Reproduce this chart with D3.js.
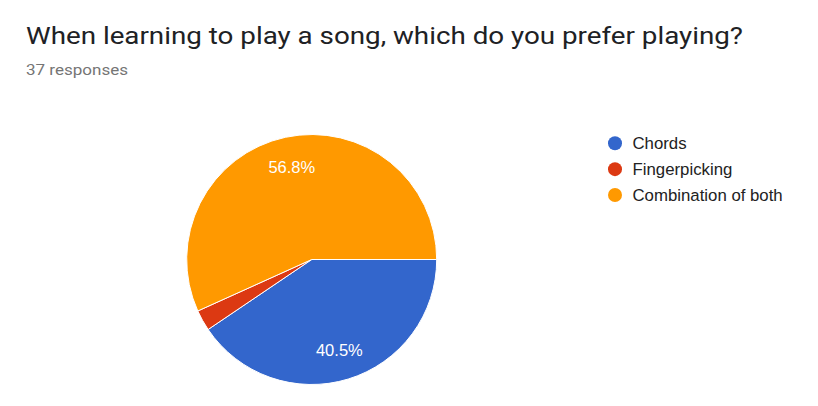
<!DOCTYPE html>
<html>
<head>
<meta charset="utf-8">
<script src="https://cdn.jsdelivr.net/npm/d3@7"></script>
<style>
  html, body { margin: 0; padding: 0; background: #ffffff; }
  svg { display: block; }
</style>
</head>
<body>
<svg id="chart" width="818" height="406"></svg>
<script>
const categories = ["Chords", "Fingerpicking", "Combination of both"];
const counts = [15, 1, 21];
const percentLabels = ["40.5%", "2.7%", "56.8%"];
const colors = ["#3366cc", "#dc3912", "#ff9900"];
const titleText = "When learning to play a song, which do you prefer playing?";
const subtitleText = "37 responses";

const svg = d3.select("#chart");

svg.append("text")
  .attr("x", 26).attr("y", 44)
  .attr("font-family", "Roboto, sans-serif")
  .attr("font-size", 23.5)
  .attr("fill", "#202124")
  .attr("textLength", 717)
  .attr("lengthAdjust", "spacingAndGlyphs")
  .text(titleText);

svg.append("text")
  .attr("x", 26).attr("y", 75)
  .attr("font-family", "Roboto, sans-serif")
  .attr("font-size", 15)
  .attr("fill", "#757575")
  .attr("textLength", 102)
  .attr("lengthAdjust", "spacingAndGlyphs")
  .text(subtitleText);

const cx = 311.7, cy = 259.5, r = 125;
const total = d3.sum(counts);

const pie = d3.pie().sort(null).value(d => d)
  .startAngle(Math.PI / 2).endAngle(Math.PI / 2 + 2 * Math.PI);
const arcs = pie(counts);
const arc = d3.arc().innerRadius(0).outerRadius(r);
const labelArc = d3.arc().innerRadius(r * 0.755).outerRadius(r * 0.755);

const g = svg.append("g").attr("transform", `translate(${cx},${cy})`);
g.selectAll("path.slice").data(arcs).enter().append("path")
  .attr("class", "slice")
  .attr("d", arc)
  .attr("fill", (d, i) => colors[i])
  .attr("stroke", "#ffffff")
  .attr("stroke-width", 1);

g.selectAll("text.pct").data(arcs.filter(d => d.value / total > 0.05)).enter().append("text")
  .attr("class", "pct")
  .attr("transform", d => `translate(${labelArc.centroid(d)})`)
  .attr("text-anchor", "middle")
  .attr("dy", "0.36em")
  .attr("font-family", "'Liberation Sans', Arial, sans-serif")
  .attr("font-size", 16.5)
  .attr("fill", "#ffffff")
  .text(d => percentLabels[d.index]);

const legendY = d3.scalePoint().domain(categories).range([143.3, 195]);
const legend = svg.append("g");
const items = legend.selectAll("g").data(categories).enter().append("g")
  .attr("transform", d => `translate(615,${legendY(d)})`);
items.append("circle")
  .attr("r", 7)
  .attr("fill", (d, i) => colors[i]);
items.append("text")
  .attr("x", 17.5).attr("y", 5.5)
  .attr("font-family", "'Liberation Sans', Arial, sans-serif")
  .attr("font-size", 16.8)
  .attr("fill", "#222222")
  .text(d => d);
</script>
</body>
</html>
